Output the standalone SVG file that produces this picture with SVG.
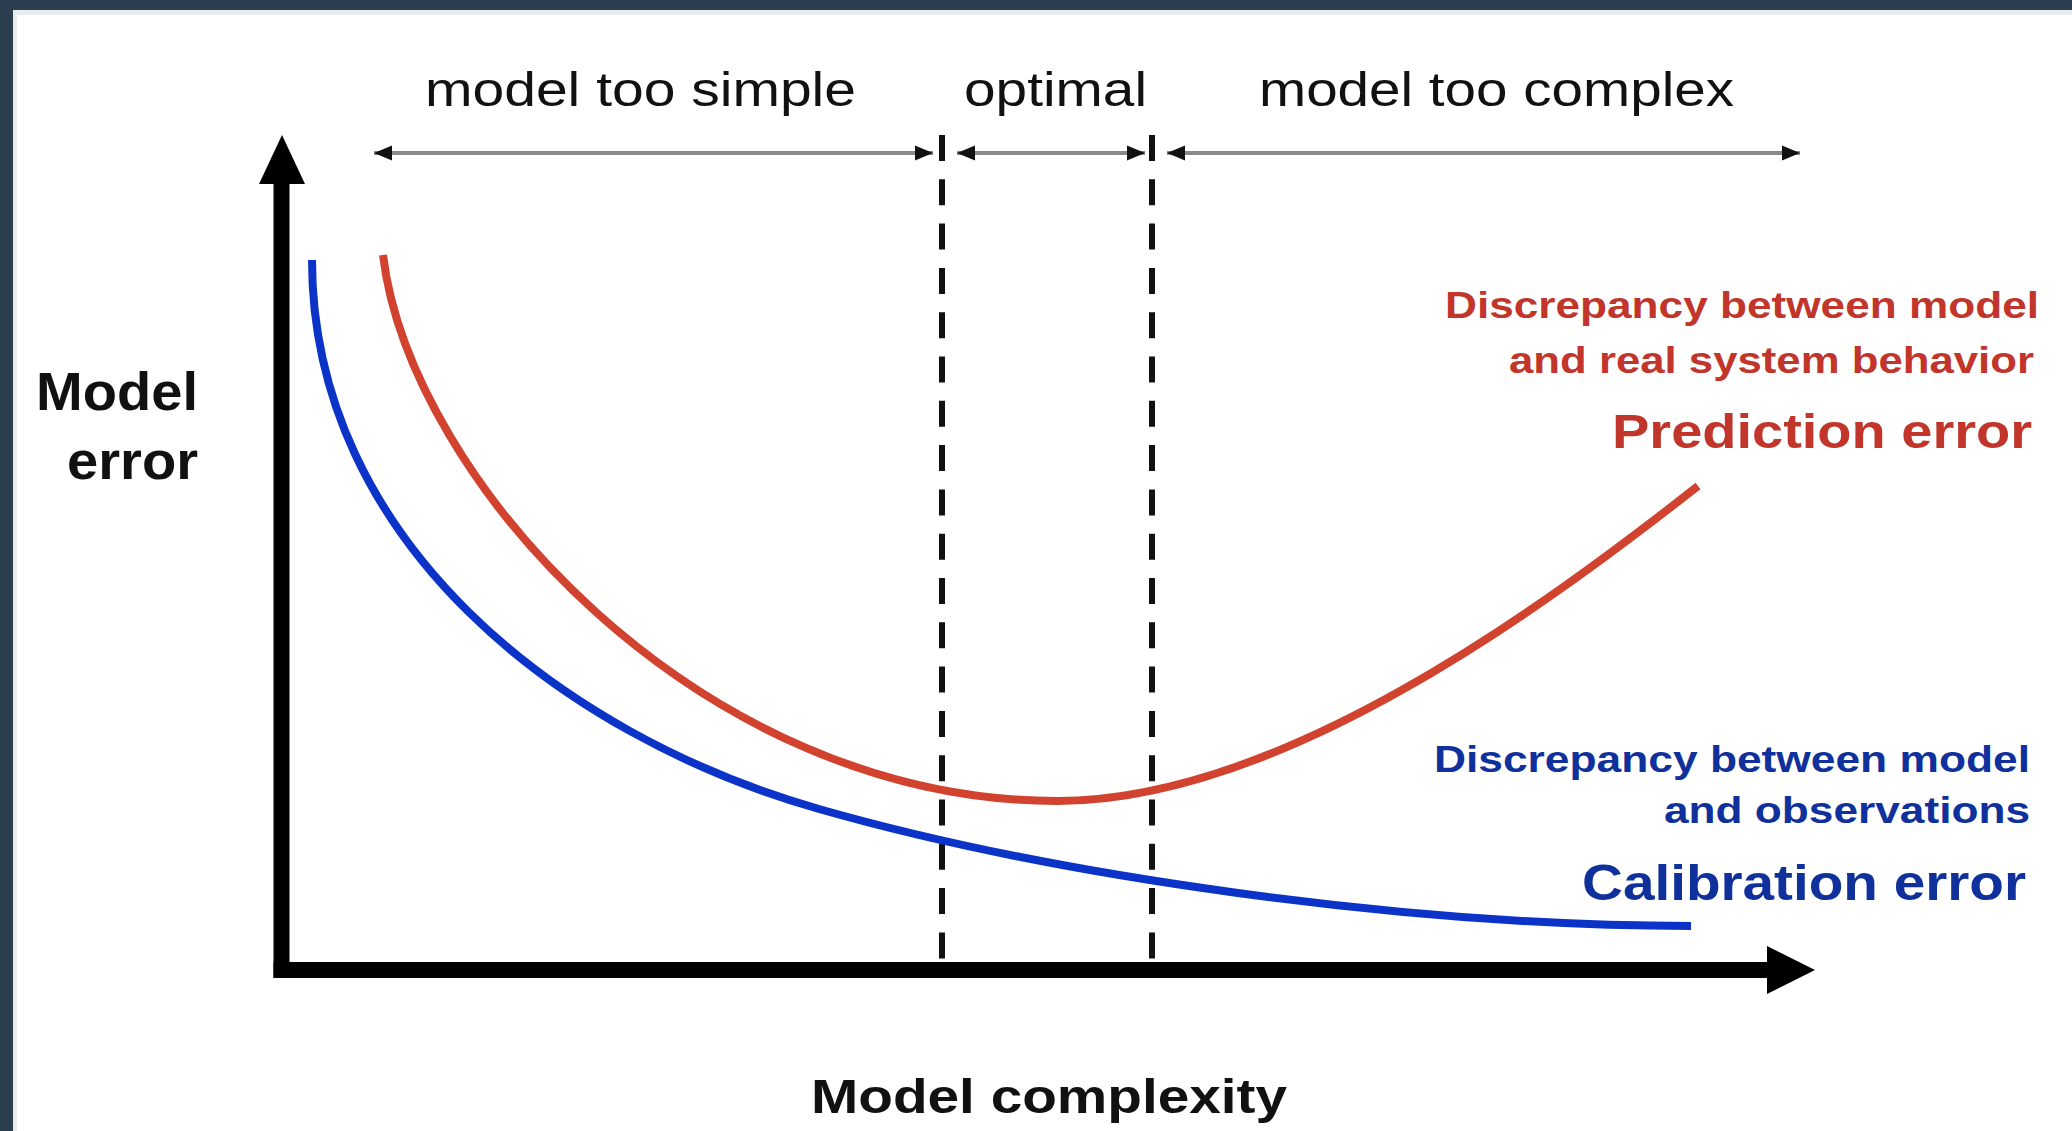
<svg xmlns="http://www.w3.org/2000/svg" width="2072" height="1131" viewBox="0 0 2072 1131">
<style>
.lbl{font-family:"Liberation Sans",Arial,sans-serif;fill:#111}
.top{font-size:49px;font-weight:400}
.axl{font-size:53px;font-weight:700}
.red{fill:#c1352b;font-weight:700}
.blu{fill:#10309c;font-weight:700}
.rng{stroke:#8a8a8a;stroke-width:4;fill:none}
.dash{stroke:#111;stroke-width:6;stroke-dasharray:26 18.3;fill:none}
.axis{stroke:#000;stroke-width:16;fill:none}
.curve{fill:none;stroke-width:8;stroke-linecap:butt}
</style>
<defs>
<marker id="ah" markerUnits="userSpaceOnUse" markerWidth="20" markerHeight="16" refX="18" refY="8" orient="auto-start-reverse">
<path d="M0,0.5 L18,8 L0,15.5 z" fill="#111"/>
</marker>
</defs>
<rect x="0" y="0" width="2072" height="1131" fill="#2c3e50"/>
<rect x="13" y="10" width="2059" height="1121" fill="#ffffff"/>
<rect x="13" y="10" width="2059" height="5" fill="#e8ecef"/>
<rect x="13" y="10" width="4" height="1121" fill="#e8ecef"/>

<g id="connectors">
<line class="rng" x1="374" y1="153" x2="933" y2="153" marker-start="url(#ah)" marker-end="url(#ah)"/>
<line class="rng" x1="957" y1="153" x2="1145" y2="153" marker-start="url(#ah)" marker-end="url(#ah)"/>
<line class="rng" x1="1167" y1="153" x2="1800" y2="153" marker-start="url(#ah)" marker-end="url(#ah)"/>
<line class="dash" x1="942" y1="135" x2="942" y2="962"/>
<line class="dash" x1="1152" y1="135" x2="1152" y2="962"/>
</g>

<g id="y-axis">
<line class="axis" x1="281.5" y1="978" x2="281.5" y2="180"/>
<polygon points="259,184 282,135 305,184" fill="#000"/>
</g>
<g id="x-axis">
<line class="axis" x1="273.5" y1="970" x2="1770" y2="970"/>
<polygon points="1767,946 1815,970 1767,994" fill="#000"/>
</g>

<g id="prediction-curve">
<path class="curve" stroke="#d2432f" d="M383,255 C410,480 700,801 1057,801 C1280,801 1540,610 1698,486"/>
</g>
<g id="calibration-curve">
<path class="curve" stroke="#0b33c8" d="M312,260 C312,540 560,735 819,809 C1050,875 1400,926 1691,926"/>
</g>

<g id="label-simple"><text class="lbl top" x="425" y="106" textLength="431" lengthAdjust="spacingAndGlyphs">model too simple</text></g>
<g id="label-optimal"><text class="lbl top" x="964" y="106" textLength="183" lengthAdjust="spacingAndGlyphs">optimal</text></g>
<g id="label-complex"><text class="lbl top" x="1259" y="106" textLength="475" lengthAdjust="spacingAndGlyphs">model too complex</text></g>

<g id="label-model-error">
<text class="lbl axl" x="36" y="410" textLength="162" lengthAdjust="spacingAndGlyphs">Model</text>
<text class="lbl axl" x="67" y="479" textLength="131" lengthAdjust="spacingAndGlyphs">error</text>
</g>
<g id="label-model-complexity">
<text class="lbl axl" x="811" y="1113" font-size="49" style="font-size:49px" textLength="476" lengthAdjust="spacingAndGlyphs">Model complexity</text>
</g>

<g id="label-prediction">
<text class="lbl red" x="1445" y="318" style="font-size:36px" textLength="594" lengthAdjust="spacingAndGlyphs">Discrepancy between model</text>
<text class="lbl red" x="1509" y="373" style="font-size:36px" textLength="525" lengthAdjust="spacingAndGlyphs">and real system behavior</text>
<text class="lbl red" x="1612" y="448" style="font-size:48px" textLength="420" lengthAdjust="spacingAndGlyphs">Prediction error</text>
</g>
<g id="label-calibration">
<text class="lbl blu" x="1434" y="772" style="font-size:36px" textLength="596" lengthAdjust="spacingAndGlyphs">Discrepancy between model</text>
<text class="lbl blu" x="1664" y="823" style="font-size:36px" textLength="366" lengthAdjust="spacingAndGlyphs">and observations</text>
<text class="lbl blu" x="1582" y="900" style="font-size:50px" textLength="444" lengthAdjust="spacingAndGlyphs">Calibration error</text>
</g>
</svg>
